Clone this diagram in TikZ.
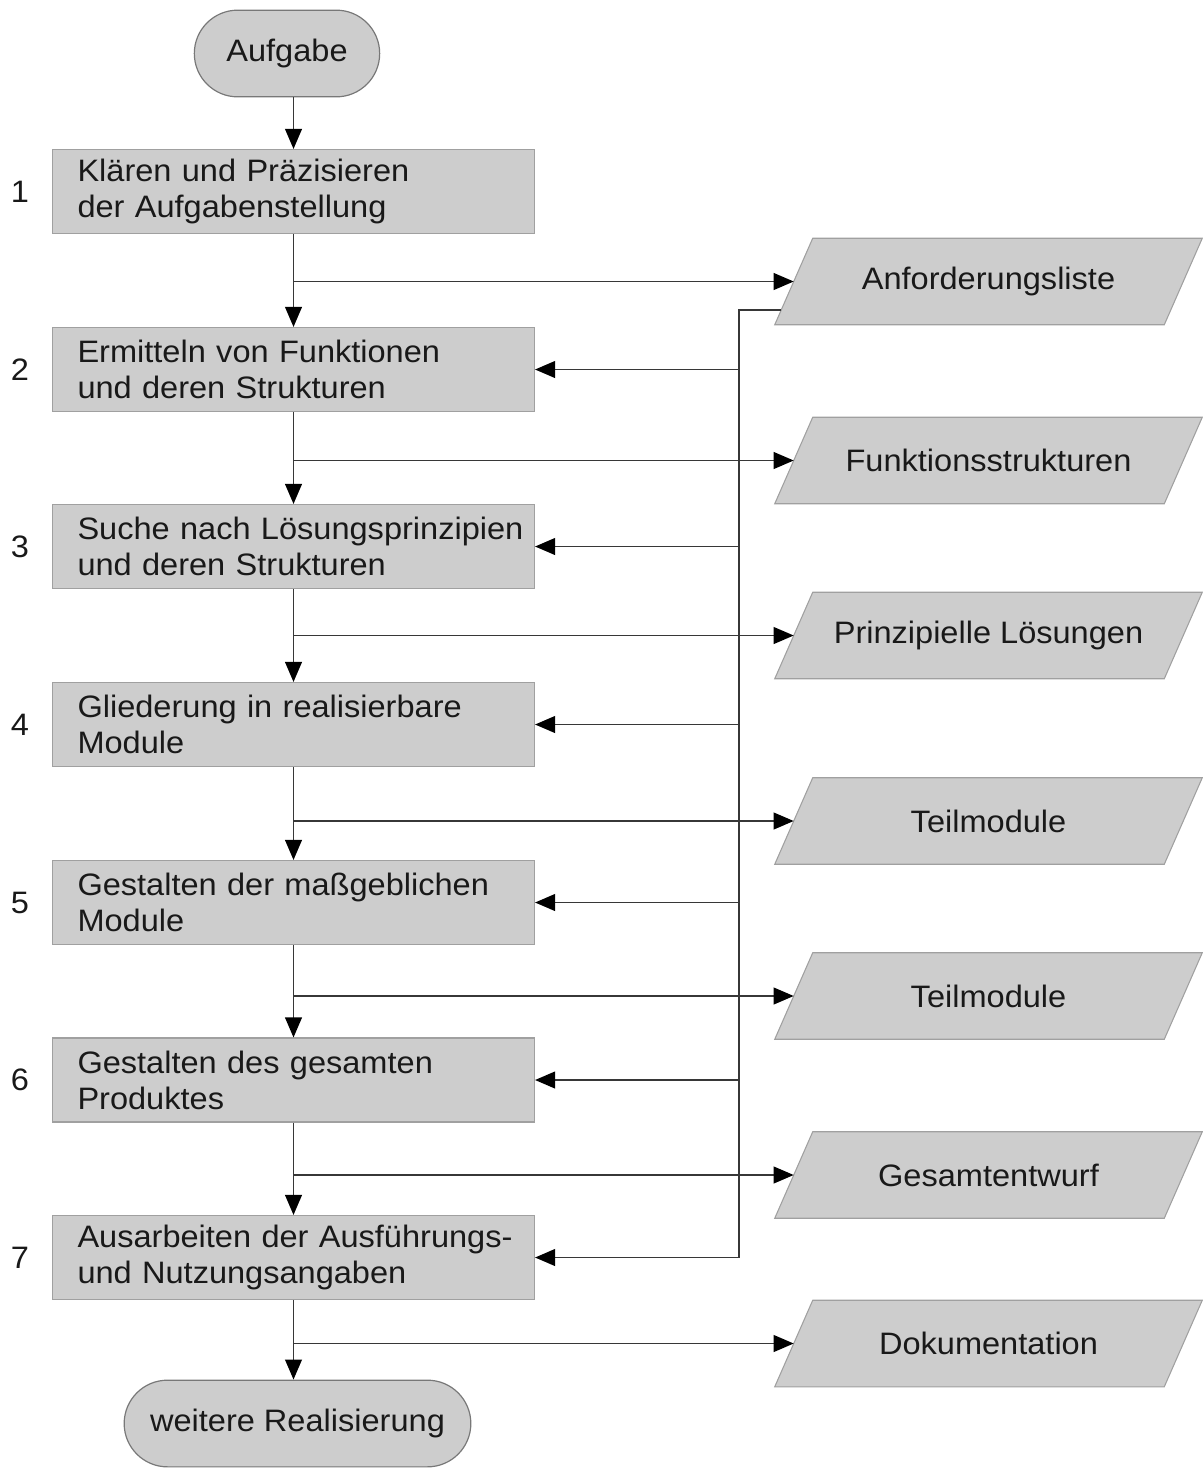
\documentclass[tikz,border=0pt]{standalone}
\usepackage{fontspec}
\setmainfont[FakeStretch=1.05]{Liberation Sans}
\usetikzlibrary{arrows.meta,shapes.misc,calc,backgrounds}
\definecolor{fillc}{RGB}{205,205,205}
\definecolor{edgec}{RGB}{160,160,160}
\definecolor{termedge}{RGB}{120,120,120}
\definecolor{linec}{RGB}{55,55,55}
\definecolor{txtc}{RGB}{25,25,25}
\begin{document}
\begin{tikzpicture}[x=0.75pt,y=-0.75pt,
  font=\fontsize{23.25pt}{27pt}\selectfont, text=txtc,
  stepbox/.style={rectangle, draw=edgec, fill=fillc, line width=0.8pt,
    minimum width=361.5pt, minimum height=63pt, text width=324pt,
    inner xsep=18.75pt, align=left},
  term/.style={rounded rectangle, draw=termedge, fill=fillc, line width=0.9pt,
    minimum height=65pt, inner xsep=0pt},
  result/.style={rectangle, minimum width=291.75pt, minimum height=64.5pt, inner sep=0pt},
  slanted/.style={draw=edgec, fill=fillc, line width=0.8pt, line join=miter},
  num/.style={inner sep=0pt},
  line/.style={draw=linec, line width=1.4pt},
  arr/.style={line, -{Triangle[length=15pt,width=12.5pt,fill=black,color=black]}}
]
\useasboundingbox (0,0) rectangle (1203,1468);

% start and end terminals
\node[term, minimum width=139pt] (start) at (287,53.5) {Aufgabe};
\node[term, minimum width=260pt] (end) at (297.5,1423.5) {weitere Realisierung};

% process steps (each line kept in one piece)
\node[stepbox] (b1) at (293.5,191.5) {\mbox{Klären und Präzisieren}\\\mbox{der Aufgabenstellung}};
\node[stepbox] (b2) at (293.5,369.5) {\mbox{Ermitteln von Funktionen}\\\mbox{und deren Strukturen}};
\node[stepbox] (b3) at (293.5,546.5) {\mbox{Suche nach Lösungsprinzipien}\\\mbox{und deren Strukturen}};
\node[stepbox] (b4) at (293.5,724.5) {\mbox{Gliederung in realisierbare}\\\mbox{Module}};
\node[stepbox] (b5) at (293.5,902.5) {\mbox{Gestalten der maßgeblichen}\\\mbox{Module}};
\node[stepbox] (b6) at (293.5,1080) {\mbox{Gestalten des gesamten}\\\mbox{Produktes}};
\node[stepbox] (b7) at (293.5,1257.5) {\mbox{Ausarbeiten der Ausführungs-}\\\mbox{und Nutzungsangaben}};

% step numbers
\foreach \i in {1,...,7}
  \node[num] (n\i) at ($(b\i.west)+(-32,0)$) {\i};

% working results (text area; the slanted outline is drawn behind)
\node[result] (r1) at (988.5,281.5) {Anforderungsliste};
\node[result] (r2) at (988.5,460.5) {Funktionsstrukturen};
\node[result] (r3) at (988.5,635.5) {Prinzipielle Lösungen};
\node[result] (r4) at (988.5,821) {Teilmodule};
\node[result] (r5) at (988.5,996) {Teilmodule};
\node[result] (r6) at (988.5,1175) {Gesamtentwurf};
\node[result] (r7) at (988.5,1343.5) {Dokumentation};

\begin{scope}[on background layer]
  \foreach \i in {1,...,7}
    \path[slanted] ($(r\i.south west)+(-19,0)$) -- ($(r\i.north west)+(19,0)$)
      -- ($(r\i.north east)+(19,0)$) -- ($(r\i.south east)+(-19,0)$) -- cycle;
\end{scope}

% main flow
\draw[arr] (start.south -| b1.north) -- (b1.north);
\foreach \i/\j in {1/2,2/3,3/4,4/5,5/6,6/7}
  \draw[arr] (b\i.south) -- (b\j.north);
\draw[arr] (b7.south) -- (b7.south |- end.north);

% outputs of each step
\foreach \i in {1,...,7}
  \draw[arr] (b\i.south |- r\i.west) -- (r\i.west);

% requirement list fed back to the later steps
\coordinate (bus) at (739,0);
\coordinate (fb) at ($($(r1.south west)+(-19,0)$)!0.174!($(r1.north west)+(19,0)$)$);
\draw[line] (fb) -- (fb -| bus) -- (b7.east -| bus);
\foreach \i in {2,...,7}
  \draw[arr] (b\i.east -| bus) -- (b\i.east);
\end{tikzpicture}
\end{document}
